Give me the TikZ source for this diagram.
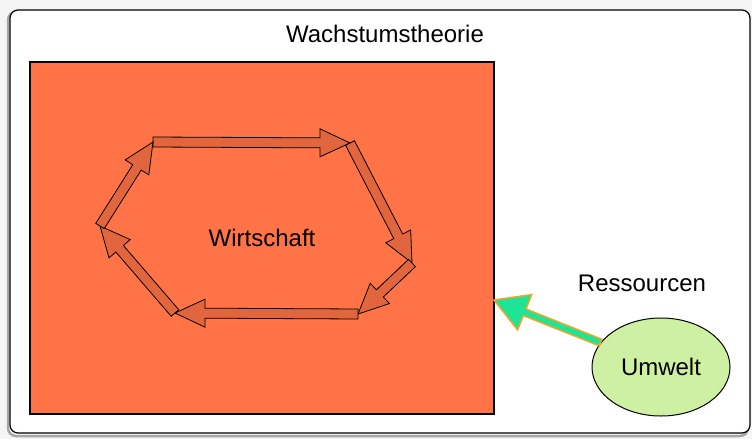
\documentclass[tikz,border=0pt]{standalone}
\usepackage{fontspec}
\setmainfont{Liberation Sans}
\usetikzlibrary{calc,shapes.geometric}
\definecolor{wirtschaftbg}{RGB}{255,115,70}
\definecolor{kreisfill}{RGB}{222,100,60}
\definecolor{umweltbg}{RGB}{206,240,162}
\definecolor{ressfill}{RGB}{30,228,150}
\definecolor{ressdraw}{RGB}{240,165,40}
\tikzset{
 ba shaft/.store in=\bashaft, ba head/.store in=\bahead, ba tip/.store in=\batip,
 blockarrow/.style={to path={let \p1=($(\tikztotarget)-(\tikztostart)$),
   \n1={veclen(\x1,\y1)}, \n2={atan2(\y1,\x1)} in
   ([shift={(\tikztostart)},rotate=\n2]0pt,-\bashaft)
   -- ([shift={(\tikztostart)},rotate=\n2]\n1-\batip,-\bashaft)
   -- ([shift={(\tikztostart)},rotate=\n2]\n1-\batip,-\bahead)
   -- ([shift={(\tikztostart)},rotate=\n2]\n1,0pt)
   -- ([shift={(\tikztostart)},rotate=\n2]\n1-\batip,\bahead)
   -- ([shift={(\tikztostart)},rotate=\n2]\n1-\batip,\bashaft)
   -- ([shift={(\tikztostart)},rotate=\n2]0pt,\bashaft) -- cycle}},
 kreispfeil/.style={blockarrow,ba shaft=5pt,ba head=14pt,ba tip=30pt,draw=black,line width=0.8pt,fill=kreisfill,fill opacity=0.85},
 resspfeil/.style={blockarrow,ba shaft=3.5pt,ba head=19pt,ba tip=33pt,draw=ressdraw,line width=1.5pt,fill=ressfill}
}
\begin{document}
\begin{tikzpicture}[x=1pt,y=-1pt,font=\fontsize{24}{28}\selectfont]
 \useasboundingbox (0,0) rectangle (752,439);
 \fill[gray!8] (0,0) rectangle (752,439);
 \draw[gray!70,line width=2.5pt,rounded corners=8pt](8,12) rectangle (748,436);
 \draw[black,line width=1.2pt,fill=white,rounded corners=8pt](10,10) rectangle (750,433);
 \node (titel) at (385,34) {Wachstumstheorie};
 \node[draw,line width=1.2pt,fill=wirtschaftbg,minimum width=464pt,minimum height=352pt,inner sep=0] (wirtschaft) at (262,238) {Wirtschaft};
 \coordinate (k1) at (153,142);
 \coordinate (k2) at (350,143);
 \coordinate (k3) at (412,263);
 \coordinate (k4) at (358,314);
 \coordinate (k5) at (175,313);
 \coordinate (k6) at (100,226);
 \foreach \a/\b in {k1/k2,k2/k3,k3/k4,k4/k5,k5/k6,k6/k1}
  \draw[kreispfeil] (\a) to (\b);
 \node (ressourcen) at (642,283) {Ressourcen};
 \node[ellipse,draw,line width=1pt,fill=umweltbg,minimum width=138pt,minimum height=98pt,inner sep=0] (umwelt) at (661,367) {Umwelt};
 \coordinate (ressein) at (494,300);
 \draw[resspfeil] (umwelt.158) to (ressein);
\end{tikzpicture}
\end{document}
